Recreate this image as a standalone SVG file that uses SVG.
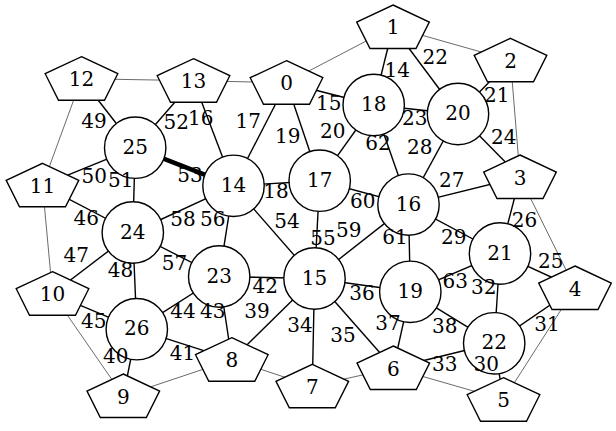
<svg xmlns="http://www.w3.org/2000/svg" width="616" height="431" viewBox="0 0 616 431">
<style>
.o{stroke:#444;stroke-width:0.8;fill:none}
.e{stroke:#000;stroke-width:1.4;fill:none}
.t{stroke:#000;stroke-width:4.6;fill:none}
.n{fill:#fff;stroke:#000;stroke-width:1.4}
text{font-family:"DejaVu Serif",serif;font-size:20px;text-anchor:middle;fill:#000}
</style>
<defs>
<polygon id="pg" points="0,0 36.3,17 23,43.5 -23,43.5 -36.3,17"/>
</defs>
<rect width="616" height="431" fill="#fff"/>
<g id="connectors">
<g id="ring">
<line class="o" x1="81.5" y1="78.7" x2="193.5" y2="80.7"/>
<line class="o" x1="193.5" y1="80.7" x2="286.5" y2="82.7"/>
<line class="o" x1="286.5" y1="82.7" x2="393" y2="27"/>
<line class="o" x1="393" y1="27" x2="510.5" y2="60.3"/>
<line class="o" x1="510.5" y1="60.3" x2="520" y2="177"/>
<line class="o" x1="520" y1="177" x2="575" y2="288"/>
<line class="o" x1="575" y1="288" x2="503.5" y2="399.7"/>
<line class="o" x1="503.5" y1="399.7" x2="393.3" y2="368"/>
<line class="o" x1="393.3" y1="368" x2="312.3" y2="386.3"/>
<line class="o" x1="312.3" y1="386.3" x2="231.8" y2="359.7"/>
<line class="o" x1="231.8" y1="359.7" x2="123.3" y2="396"/>
<line class="o" x1="123.3" y1="396" x2="52.5" y2="293.7"/>
<line class="o" x1="52.5" y1="293.7" x2="42.5" y2="185.3"/>
<line class="o" x1="42.5" y1="185.3" x2="81.5" y2="78.7"/>
</g>
<g id="edges">
<line class="e" x1="393" y1="27" x2="373.7" y2="105"/>
<line class="e" x1="286.5" y1="82.7" x2="373.7" y2="105"/>
<line class="e" x1="193.5" y1="80.7" x2="233.5" y2="185.8"/>
<line class="e" x1="286.5" y1="82.7" x2="233.5" y2="185.8"/>
<line class="e" x1="233.5" y1="185.8" x2="319.7" y2="180.7"/>
<line class="e" x1="286.5" y1="82.7" x2="319.7" y2="180.7"/>
<line class="e" x1="319.7" y1="180.7" x2="373.7" y2="105"/>
<line class="e" x1="510.5" y1="60.3" x2="458" y2="114"/>
<line class="e" x1="393" y1="27" x2="458" y2="114"/>
<line class="e" x1="373.7" y1="105" x2="458" y2="114"/>
<line class="e" x1="458" y1="114" x2="520" y2="177"/>
<line class="e" x1="500" y1="253.5" x2="575" y2="288"/>
<line class="e" x1="520" y1="177" x2="500" y2="253.5"/>
<line class="e" x1="408.5" y1="204.6" x2="520" y2="177"/>
<line class="e" x1="408.5" y1="204.6" x2="458" y2="114"/>
<line class="e" x1="408.5" y1="204.6" x2="500" y2="253.5"/>
<line class="e" x1="494.2" y1="343.3" x2="503.5" y2="399.7"/>
<line class="e" x1="494.2" y1="343.3" x2="575" y2="288"/>
<line class="e" x1="500" y1="253.5" x2="494.2" y2="343.3"/>
<line class="e" x1="393.3" y1="368" x2="494.2" y2="343.3"/>
<line class="e" x1="314.5" y1="278.5" x2="312.3" y2="386.3"/>
<line class="e" x1="314.5" y1="278.5" x2="393.3" y2="368"/>
<line class="e" x1="314.5" y1="278.5" x2="410.3" y2="291.8"/>
<line class="e" x1="410.3" y1="291.8" x2="393.3" y2="368"/>
<line class="e" x1="410.3" y1="291.8" x2="494.2" y2="343.3"/>
<line class="e" x1="314.5" y1="278.5" x2="231.8" y2="359.7"/>
<line class="e" x1="136.8" y1="329.2" x2="123.3" y2="396"/>
<line class="e" x1="136.8" y1="329.2" x2="231.8" y2="359.7"/>
<line class="e" x1="219.2" y1="276.5" x2="314.5" y2="278.5"/>
<line class="e" x1="219.2" y1="276.5" x2="231.8" y2="359.7"/>
<line class="e" x1="219.2" y1="276.5" x2="136.8" y2="329.2"/>
<line class="e" x1="52.5" y1="293.7" x2="136.8" y2="329.2"/>
<line class="e" x1="42.5" y1="185.3" x2="132.8" y2="232.5"/>
<line class="e" x1="52.5" y1="293.7" x2="132.8" y2="232.5"/>
<line class="e" x1="132.8" y1="232.5" x2="136.8" y2="329.2"/>
<line class="e" x1="81.5" y1="78.7" x2="135.2" y2="147.7"/>
<line class="e" x1="42.5" y1="185.3" x2="135.2" y2="147.7"/>
<line class="e" x1="135.2" y1="147.7" x2="132.8" y2="232.5"/>
<line class="e" x1="193.5" y1="80.7" x2="135.2" y2="147.7"/>
<line class="t" x1="135.2" y1="147.7" x2="233.5" y2="185.8"/>
<line class="e" x1="233.5" y1="185.8" x2="314.5" y2="278.5"/>
<line class="e" x1="319.7" y1="180.7" x2="314.5" y2="278.5"/>
<line class="e" x1="233.5" y1="185.8" x2="219.2" y2="276.5"/>
<line class="e" x1="132.8" y1="232.5" x2="219.2" y2="276.5"/>
<line class="e" x1="132.8" y1="232.5" x2="233.5" y2="185.8"/>
<line class="e" x1="314.5" y1="278.5" x2="408.5" y2="204.6"/>
<line class="e" x1="319.7" y1="180.7" x2="408.5" y2="204.6"/>
<line class="e" x1="408.5" y1="204.6" x2="410.3" y2="291.8"/>
<line class="e" x1="373.7" y1="105" x2="408.5" y2="204.6"/>
<line class="e" x1="410.3" y1="291.8" x2="500" y2="253.5"/>
</g>
</g>
<g id="node0"><use href="#pg" class="n" x="286.5" y="60.7"/><text x="286.5" y="90.4">0</text></g>
<g id="node1"><use href="#pg" class="n" x="393" y="5"/><text x="393" y="34">1</text></g>
<g id="node2"><use href="#pg" class="n" x="510.5" y="38.3"/><text x="510.5" y="68">2</text></g>
<g id="node3"><use href="#pg" class="n" x="520" y="155"/><text x="520" y="184.7">3</text></g>
<g id="node4"><use href="#pg" class="n" x="575" y="266"/><text x="575" y="295.7">4</text></g>
<g id="node5"><use href="#pg" class="n" x="503.5" y="377.7"/><text x="503.5" y="407.4">5</text></g>
<g id="node6"><use href="#pg" class="n" x="393.3" y="346"/><text x="393.3" y="375.7">6</text></g>
<g id="node7"><use href="#pg" class="n" x="312.3" y="364.3"/><text x="312.3" y="394">7</text></g>
<g id="node8"><use href="#pg" class="n" x="231.8" y="337.7"/><text x="231.8" y="367.4">8</text></g>
<g id="node9"><use href="#pg" class="n" x="123.3" y="374"/><text x="123.3" y="403.7">9</text></g>
<g id="node10"><use href="#pg" class="n" x="52.5" y="271.7"/><text x="52.5" y="301.4">10</text></g>
<g id="node11"><use href="#pg" class="n" x="42.5" y="163.3"/><text x="42.5" y="193">11</text></g>
<g id="node12"><use href="#pg" class="n" x="81.5" y="56.7"/><text x="81.5" y="86.4">12</text></g>
<g id="node13"><use href="#pg" class="n" x="193.5" y="58.7"/><text x="193.5" y="88.4">13</text></g>
<g id="node14"><circle class="n" cx="233.5" cy="185.8" r="30.7"/><text x="233.5" y="191.8">14</text></g>
<g id="node15"><circle class="n" cx="314.5" cy="278.5" r="30.7"/><text x="314.5" y="284.5">15</text></g>
<g id="node16"><circle class="n" cx="408.5" cy="204.6" r="30.7"/><text x="408.5" y="210.6">16</text></g>
<g id="node17"><circle class="n" cx="319.7" cy="180.7" r="30.7"/><text x="319.7" y="186.7">17</text></g>
<g id="node18"><circle class="n" cx="373.7" cy="105" r="30.7"/><text x="373.7" y="111">18</text></g>
<g id="node19"><circle class="n" cx="410.3" cy="291.8" r="30.7"/><text x="410.3" y="297.8">19</text></g>
<g id="node20"><circle class="n" cx="458" cy="114" r="30.7"/><text x="458" y="120">20</text></g>
<g id="node21"><circle class="n" cx="500" cy="253.5" r="30.7"/><text x="500" y="259.5">21</text></g>
<g id="node22"><circle class="n" cx="494.2" cy="343.3" r="30.7"/><text x="494.2" y="349.3">22</text></g>
<g id="node23"><circle class="n" cx="219.2" cy="276.5" r="30.7"/><text x="219.2" y="282.5">23</text></g>
<g id="node24"><circle class="n" cx="132.8" cy="232.5" r="30.7"/><text x="132.8" y="238.5">24</text></g>
<g id="node25"><circle class="n" cx="135.2" cy="147.7" r="30.7"/><text x="135.2" y="153.7">25</text></g>
<g id="node26"><circle class="n" cx="136.8" cy="329.2" r="30.7"/><text x="136.8" y="335.2">26</text></g>
<g id="edge-labels">
<text x="397.2" y="77.3">14</text><text x="328.7" y="110">15</text><text x="200.8" y="125">16</text><text x="248.3" y="127.7">17</text>
<text x="276" y="198.3">18</text><text x="287.8" y="143.3">19</text><text x="332.8" y="138.3">20</text><text x="496.7" y="101.7">21</text>
<text x="435.3" y="64.3">22</text><text x="414.7" y="125">23</text><text x="503.7" y="144">24</text><text x="550.8" y="267.7">25</text>
<text x="524.5" y="226.7">26</text><text x="451.7" y="186.7">27</text><text x="419.7" y="154">28</text><text x="453.8" y="244.3">29</text>
<text x="486.3" y="371">30</text><text x="547" y="331">31</text><text x="483.8" y="294">32</text><text x="444.7" y="371">33</text>
<text x="300" y="332.3">34</text><text x="343" y="341.7">35</text><text x="362" y="300">36</text><text x="388" y="330">37</text>
<text x="444.7" y="333.3">38</text><text x="257" y="318.3">39</text><text x="115.8" y="363.3">40</text><text x="182.5" y="360">41</text>
<text x="265.3" y="293.3">42</text><text x="212.8" y="318.3">43</text><text x="183" y="318.3">44</text><text x="93.7" y="328.3">45</text>
<text x="86.3" y="225">46</text><text x="76.3" y="261.7">47</text><text x="120.5" y="276.7">48</text><text x="94" y="128">49</text>
<text x="94.3" y="183.3">50</text><text x="120.7" y="186.7">51</text><text x="176.2" y="129.3">52</text><text x="190" y="181.7">53</text>
<text x="287" y="228.3">54</text><text x="323" y="245">55</text><text x="212.8" y="226">56</text><text x="174.5" y="270">57</text>
<text x="183" y="225.7">58</text><text x="348.7" y="236.7">59</text><text x="362.8" y="208.3">60</text><text x="395" y="244">61</text>
<text x="378" y="150">62</text><text x="455.3" y="288.3">63</text>
</g>
</svg>
